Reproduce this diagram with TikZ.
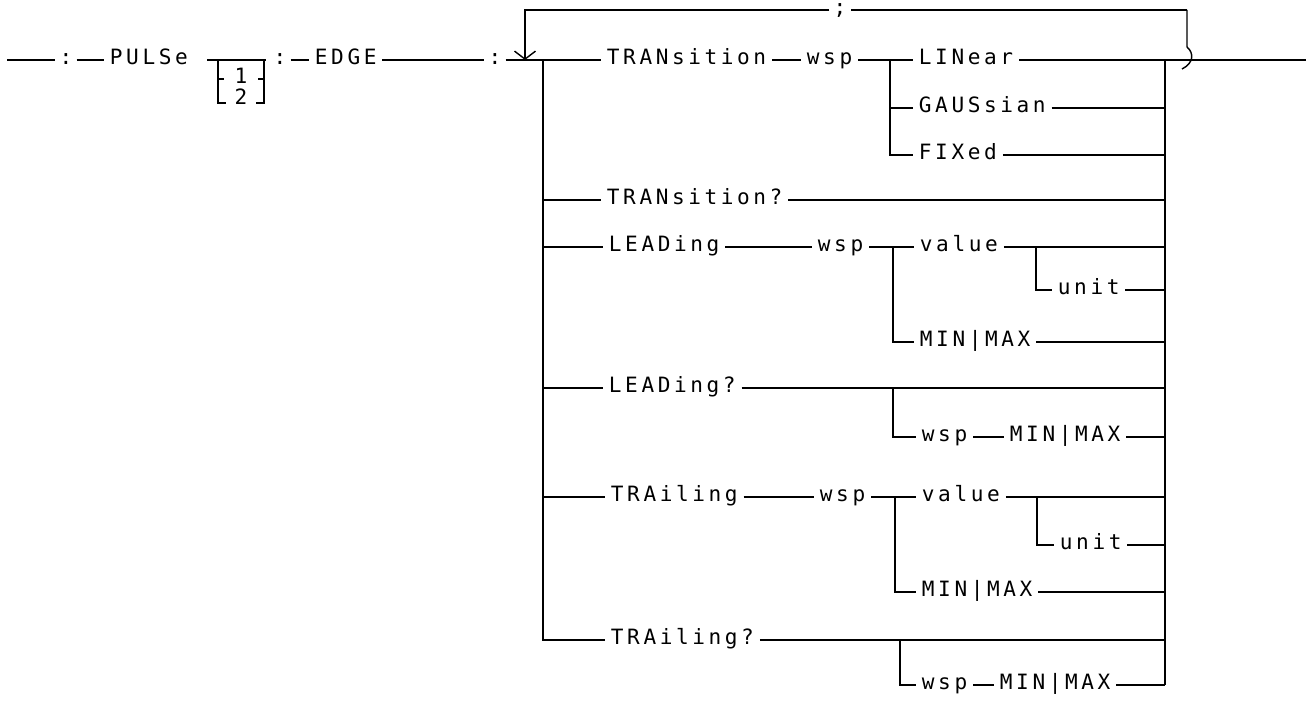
\documentclass[tikz,border=0pt]{standalone}
\usepackage{fontspec}
\newfontfamily\plotfont{DejaVu Sans Mono}[LetterSpace=17]
\usetikzlibrary{arrows.meta}
\begin{document}
\begin{tikzpicture}[x=0.02cm,y=-0.02cm,line width=0.8pt,
    kw/.style={inner sep=3pt,anchor=west,text height=1.6ex,text depth=0.4ex,
      font=\plotfont\fontsize{12}{14}\selectfont},
    sep/.style={inner sep=2pt,text height=1.6ex,text depth=0.4ex,
      font=\plotfont\fontsize{12}{14}\selectfont}]
  \useasboundingbox (0,0) rectangle (1310,709);
  \def\bx{543}  % trunk of the choices
  \def\rx{1165} % right collector
  % head of the command
  \coordinate (start) at (7,60);
  \node[sep] (c1) at (66,60) {:};
  \node[kw] (pulse) at (104,60) {PULSe};
  \coordinate (brl) at (207,60);
  \coordinate (brr) at (266,60);
  \draw (start) -- (c1);
  \draw (c1) -- (pulse);
  \draw (brl) -- (brr);
  % suffix bracket
  \node[sep] (one) at (241,79) {1};
  \node[sep] (two) at (241,100) {2};
  \draw (218,60) -- (218,103) -- (226,103);
  \draw (218,79) -- (224,79);
  \draw (264,60) -- (264,103) -- (256,103);
  \draw (264,79) -- (258,79);
  \node[sep] (c2) at (280,60) {:};
  \node[kw] (edge) at (309,60) {EDGE};
  \node[sep] (c3) at (495,60) {:};
  \draw (c2) -- (edge);
  \draw (edge) -- (c3);
  % repeat loop
  \coordinate (jl) at (525,60);
  \coordinate (jb) at (\bx,60);
  \coordinate (loopr) at (1187,10);
  \node[sep] (semi) at (840,10) {;};
  \draw (c3) -- (jb);
  \draw (loopr) -- (semi);
  \draw[-{Straight Barb[length=1.6mm,width=4.2mm]}] (semi) -| (jl);
  \draw (loopr) -- (1187,47) .. controls (1194,53) and (1194,63) .. (1182,69);
  \coordinate (exit) at (1306,60);
  \draw (\rx,60) -- (exit);
  \draw (\rx,60) -- (\rx,685);
  % TRANsition
  \node[kw] (trans) at (601,60) {TRANsition};
  \node[kw] (wspa) at (801,60) {wsp};
  \node[kw] (lin) at (913,60) {LINear};
  \node[kw] (gaus) at (913,108) {GAUSsian};
  \node[kw] (fix) at (913,155) {FIXed};
  \draw (jb) -- (trans);
  \draw (trans) -- (wspa);
  \draw (wspa) -- (lin);
  \draw (lin) -- (\rx,60);
  \draw (890,60) |- (fix);
  \draw (890,108) -- (gaus);
  \draw (gaus) -- (\rx,108);
  \draw (fix) -- (\rx,155);
  % TRANsition?
  \node[kw] (transq) at (601,200) {TRANsition?};
  \draw (\bx,200) -- (transq);
  \draw (transq) -- (\rx,200);
  % LEADing
  \node[kw] (lead) at (603,247) {LEADing};
  \node[kw] (wspb) at (812,247) {wsp};
  \node[kw] (vala) at (914,247) {value};
  \node[kw] (unita) at (1052,290) {unit};
  \node[kw] (mma) at (914,342) {MIN|MAX};
  \draw (\bx,247) -- (lead);
  \draw (lead) -- (wspb);
  \draw (wspb) -- (vala);
  \draw (vala) -- (\rx,247);
  \draw (1036,247) |- (unita);
  \draw (unita) -- (\rx,290);
  \draw (893,247) |- (mma);
  \draw (mma) -- (\rx,342);
  % LEADing?
  \node[kw] (leadq) at (603,388) {LEADing?};
  \node[kw] (wspc) at (916,437) {wsp};
  \node[kw] (mmc) at (1004,437) {MIN|MAX};
  \draw (\bx,388) -- (leadq);
  \draw (leadq) -- (\rx,388);
  \draw (893,388) |- (wspc);
  \draw (wspc) -- (mmc);
  \draw (mmc) -- (\rx,437);
  % TRAiling
  \node[kw] (trail) at (605,497) {TRAiling};
  \node[kw] (wspd) at (814,497) {wsp};
  \node[kw] (valb) at (916,497) {value};
  \node[kw] (unitb) at (1054,545) {unit};
  \node[kw] (mmb) at (916,592) {MIN|MAX};
  \draw (\bx,497) -- (trail);
  \draw (trail) -- (wspd);
  \draw (wspd) -- (valb);
  \draw (valb) -- (\rx,497);
  \draw (1037,497) |- (unitb);
  \draw (unitb) -- (\rx,545);
  \draw (895,497) |- (mmb);
  \draw (mmb) -- (\rx,592);
  % TRAiling?
  \node[kw] (trailq) at (605,640) {TRAiling?};
  \node[kw] (wspe) at (916,685) {wsp};
  \node[kw] (mme) at (994,685) {MIN|MAX};
  \draw (jb) |- (trailq);
  \draw (trailq) -- (\rx,640);
  \draw (900,640) |- (wspe);
  \draw (wspe) -- (mme);
  \draw (mme) -- (\rx,685);
\end{tikzpicture}
\end{document}
